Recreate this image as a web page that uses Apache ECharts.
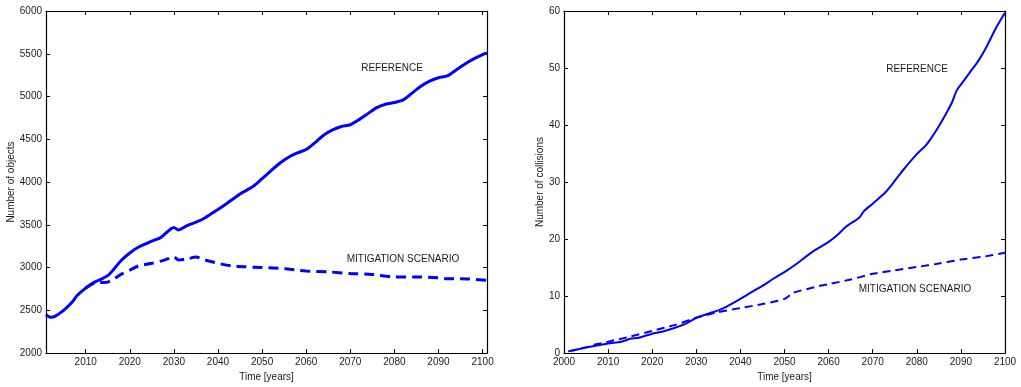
<!DOCTYPE html>
<html>
<head>
<meta charset="utf-8">
<script src="https://cdn.jsdelivr.net/npm/echarts@6/dist/echarts.min.js"></script>
<style>html,body{margin:0;padding:0;background:#fff;}#c{width:1021px;height:387px;}</style>
</head>
<body>
<div id="c"></div>
<script>
// ---------- data: left panel (number of objects) ----------
const objRefYears = [2001,2002,2003,2005,2007,2008,2010,2012,2015,2018,2020,2022,2025,2027,2030,2031,2033,2035,2037,2040,2042,2045,2048,2050,2052,2054,2056,2058,2060,2062,2064,2066,2068,2070,2072,2074,2076,2078,2080,2082,2084,2086,2088,2090,2092,2094,2096,2098,2100,2101];
const objRefVals  = [2450,2420,2430,2500,2600,2670,2760,2830,2905,3080,3170,3240,3310,3350,3470,3440,3490,3530,3580,3680,3750,3860,3950,4040,4130,4220,4290,4340,4380,4460,4550,4610,4650,4670,4730,4800,4870,4910,4930,4960,5040,5120,5180,5220,5240,5310,5380,5440,5490,5510];
const objMitYears = [2010,2012,2015,2018,2020,2022,2025,2028,2030,2031,2033,2035,2037,2040,2043,2046,2050,2055,2058,2060,2065,2070,2075,2080,2085,2090,2092,2095,2101];
const objMitVals  = [2760,2820,2830,2920,2970,3020,3050,3090,3125,3090,3100,3125,3090,3050,3020,3010,3000,2990,2970,2960,2950,2930,2920,2890,2890,2880,2870,2870,2850];

// ---------- data: right panel (number of collisions) ----------
const colRefYears = [2001,2005,2010,2013,2015,2017,2020,2022,2025,2028,2030,2033,2035,2037,2040,2043,2045,2048,2050,2053,2055,2057,2060,2062,2064,2067,2068,2070,2073,2075,2077,2080,2082,2083,2085,2087,2088,2089,2090,2092,2094,2096,2098,2100];
const colRefVals  = [0.3,1.0,1.7,2.0,2.5,2.7,3.4,3.7,4.4,5.3,6.2,7.0,7.5,8.2,9.5,10.9,11.8,13.3,14.2,15.8,17.0,18.1,19.5,20.7,22.2,23.8,24.9,26.2,28.3,30.2,32.2,34.9,36.4,37.4,39.8,42.5,44.0,46.0,47.1,49.2,51.3,54.0,57.1,59.7];
const colMitYears = [2001,2005,2007,2010,2015,2020,2025,2030,2033,2035,2040,2045,2050,2052,2055,2058,2060,2065,2070,2075,2080,2085,2090,2095,2100];
const colMitVals  = [0.3,1.0,1.5,2.0,2.9,3.9,4.9,6.2,6.8,7.2,7.9,8.6,9.5,10.6,11.2,11.8,12.1,12.9,13.9,14.5,15.1,15.7,16.4,16.9,17.6];

// ---------- tick/axis settings ----------
const objYTicks = {min: 2000, max: 6000, interval: 500};
const colYTicks = {min: 0, max: 60, interval: 10};
const objX = {min: 2001, max: 2101};
const colX = {min: 2000, max: 2100, interval: 10};

const pairs = (xs, ys) => xs.map((x, i) => [x, ys[i]]);

const FONT = "'Liberation Sans', Arial, Helvetica, sans-serif";
const TXT = '#1a1a1a';
const BLUE = '#0000ff';

function xAxes(gi, cfg, isLeft) {
  const base = {
    type: 'value', gridIndex: gi, min: cfg.min, max: cfg.max,
    axisLine: {show: true, onZero: false, lineStyle: {color: '#000', width: 1.2}},
    axisTick: {show: true, inside: true, length: 4, lineStyle: {color: '#000'}},
    splitLine: {show: false}
  };
  if (cfg.interval) base.interval = cfg.interval;
  else { base.splitNumber = 10; base.minInterval = 10; base.maxInterval = 10; }
  const bottom = Object.assign({}, base, {
    position: 'bottom',
    name: 'Time [years]', nameLocation: 'middle', nameGap: 16,
    nameTextStyle: {fontFamily: FONT, fontSize: 10, color: TXT},
    axisLabel: {fontFamily: FONT, fontSize: 10, color: TXT, margin: 4,
      showMinLabel: !isLeft, showMaxLabel: true,
      formatter: v => (isLeft && (v === 2001 || v === 2101)) ? '' : String(v)}
  });
  const top = Object.assign({}, base, {position: 'top', axisLabel: {show: false}});
  return [bottom, top];
}
function yAxes(gi, cfg, name, gap) {
  const base = {
    type: 'value', gridIndex: gi, min: cfg.min, max: cfg.max, interval: cfg.interval,
    axisLine: {show: true, onZero: false, lineStyle: {color: '#000', width: 1.2}},
    axisTick: {show: true, inside: true, length: 4, lineStyle: {color: '#000'}},
    splitLine: {show: false}
  };
  const left = Object.assign({}, base, {
    position: 'left', name: name, nameLocation: 'middle', nameGap: gap, nameRotate: 90,
    nameTextStyle: {fontFamily: FONT, fontSize: 10, color: TXT},
    axisLabel: {fontFamily: FONT, fontSize: 10, color: TXT, margin: 4, formatter: v => String(v)}
  });
  const right = Object.assign({}, base, {position: 'right', axisLabel: {show: false}});
  return [left, right];
}

const chart = echarts.init(document.getElementById('c'), null, {renderer: 'canvas'});
const xa = xAxes(0, objX, true).concat(xAxes(1, colX, false));
const ya = yAxes(0, objYTicks, 'Number of objects', 22).concat(yAxes(1, colYTicks, 'Number of collisions', 13));

const label = (x, y, t) => ({type: 'text', x: x, y: y, style: {text: t, fontFamily: FONT, fontSize: 10, fill: TXT, textAlign: 'center', textVerticalAlign: 'middle'}});

chart.setOption({
  animation: false,
  backgroundColor: '#fff',
  grid: [
    {left: 46, top: 11, width: 441, height: 347},
    {left: 564, top: 11, width: 441, height: 347}
  ],
  xAxis: xa,
  yAxis: ya,
  series: [
    {type: 'line', xAxisIndex: 0, yAxisIndex: 0, data: pairs(objRefYears, objRefVals), showSymbol: false, smooth: 0.25,
     lineStyle: {color: BLUE, width: 3}, z: 3},
    {type: 'line', xAxisIndex: 0, yAxisIndex: 0, data: pairs(objMitYears, objMitVals), showSymbol: false, smooth: 0.25,
     lineStyle: {color: BLUE, width: 3, type: [10, 6]}, z: 2},
    {type: 'line', xAxisIndex: 2, yAxisIndex: 2, data: pairs(colRefYears, colRefVals), showSymbol: false, smooth: 0.25,
     lineStyle: {color: BLUE, width: 2}, z: 3},
    {type: 'line', xAxisIndex: 2, yAxisIndex: 2, data: pairs(colMitYears, colMitVals), showSymbol: false, smooth: 0.25,
     lineStyle: {color: BLUE, width: 2, type: [8, 5]}, z: 2}
  ],
  graphic: [
    label(392, 68, 'REFERENCE'),
    label(403, 259, 'MITIGATION SCENARIO'),
    label(917, 69, 'REFERENCE'),
    label(915, 289, 'MITIGATION SCENARIO')
  ]
});
</script>
</body>
</html>
